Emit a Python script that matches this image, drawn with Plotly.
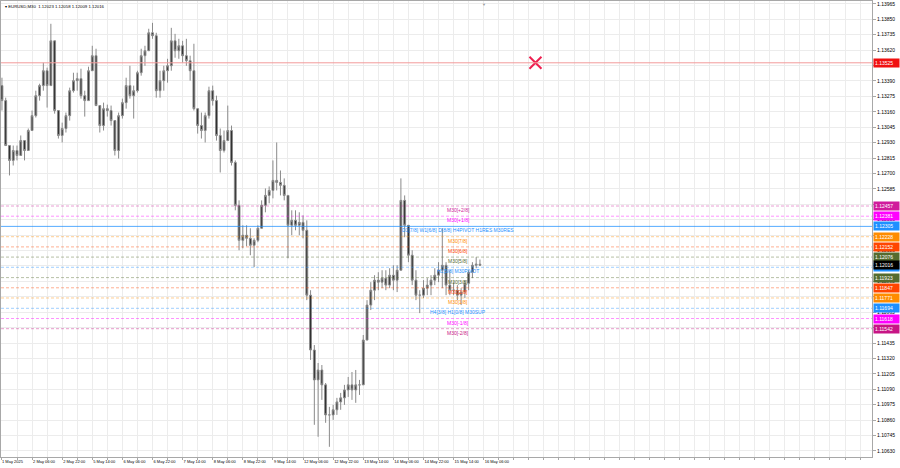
import pandas as pd
import plotly.graph_objects as go

# ---- EURUSD price data (2-hour buckets) ----
opens = [
    1.13355, 1.13243, 1.12908, 1.12797, 1.12871, 1.12834, 1.12945, 1.12871, 1.13020, 1.13131,
    1.13280, 1.13355, 1.13466, 1.13355, 1.13689, 1.13169, 1.12983, 1.13035, 1.13131, 1.13317,
    1.13392, 1.13407, 1.13280, 1.13243, 1.13466, 1.13578, 1.13206, 1.13057, 1.13183, 1.13169,
    1.13094, 1.12871, 1.13131, 1.13228, 1.13355, 1.13280, 1.13317, 1.13451, 1.13578, 1.13615,
    1.13749, 1.13727, 1.13317, 1.13392, 1.13466, 1.13503, 1.13689, 1.13615, 1.13652, 1.13578,
    1.13541, 1.13466, 1.13183, 1.13057, 1.13020, 1.13131, 1.13317, 1.13243, 1.12983, 1.12871,
    1.12945, 1.13020, 1.12782, 1.12462, 1.12201, 1.12239, 1.12216, 1.12164, 1.12201, 1.12291,
    1.12462, 1.12536, 1.12573, 1.12648, 1.12633, 1.12611, 1.12536, 1.12313, 1.12350, 1.12313,
    1.12335, 1.12276, 1.11792, 1.11383, 1.11160, 1.11234, 1.11123, 1.10899, 1.10899, 1.10937,
    1.10996, 1.11026, 1.11085, 1.11123, 1.11085, 1.11123, 1.11123, 1.11457, 1.11718, 1.11829,
    1.11904, 1.11889, 1.11919, 1.11867, 1.11941, 1.11904, 1.11978, 1.12499, 1.12313, 1.12090,
    1.11904, 1.11792, 1.11792, 1.11844, 1.11867, 1.11904, 1.11941, 1.11978, 1.12015, 1.11867,
    1.11829, 1.11829, 1.11792, 1.11815, 1.11881, 1.11963, 1.12015, 1.12023,
]
highs = [
    1.13414, 1.13265, 1.12908, 1.12908, 1.12908, 1.12983, 1.12945, 1.13035, 1.13169, 1.13317,
    1.13369, 1.13526, 1.13489, 1.13816, 1.13689, 1.13169, 1.13079, 1.13154, 1.13340, 1.13451,
    1.13451, 1.13481, 1.13317, 1.13496, 1.13652, 1.13630, 1.13206, 1.13228, 1.13213, 1.13206,
    1.13094, 1.13154, 1.13258, 1.13414, 1.13503, 1.13355, 1.13466, 1.13630, 1.13652, 1.13779,
    1.13823, 1.13749, 1.13466, 1.13503, 1.13555, 1.13786, 1.13741, 1.13704, 1.13689, 1.13704,
    1.13578, 1.13667, 1.13183, 1.13154, 1.13154, 1.13347, 1.13355, 1.13280, 1.13035, 1.13020,
    1.13206, 1.13057, 1.12797, 1.12499, 1.12313, 1.12313, 1.12291, 1.12216, 1.12313, 1.12499,
    1.12588, 1.12603, 1.12797, 1.12931, 1.12722, 1.12663, 1.12536, 1.12425, 1.12425, 1.12410,
    1.12387, 1.12350, 1.11829, 1.11420, 1.11286, 1.11271, 1.11137, 1.10959, 1.10974, 1.11026,
    1.11063, 1.11123, 1.11182, 1.11219, 1.11234, 1.11160, 1.11495, 1.11755, 1.11889, 1.11941,
    1.11963, 1.11978, 1.11978, 1.11993, 1.12015, 1.12015, 1.12663, 1.12536, 1.12313, 1.12127,
    1.11978, 1.11829, 1.11904, 1.11919, 1.11941, 1.11993, 1.12038, 1.12291, 1.12038, 1.11978,
    1.11889, 1.11867, 1.11844, 1.11904, 1.11978, 1.12038, 1.12075, 1.12058,
]
lows = [
    1.13169, 1.12908, 1.12685, 1.12759, 1.12797, 1.12834, 1.12797, 1.12871, 1.13020, 1.13117,
    1.13243, 1.13317, 1.13191, 1.13355, 1.13146, 1.12960, 1.12931, 1.13005, 1.13094, 1.13303,
    1.13317, 1.13258, 1.13124, 1.13243, 1.13466, 1.13206, 1.13005, 1.13020, 1.13124, 1.13057,
    1.12834, 1.12811, 1.13109, 1.13183, 1.13258, 1.13109, 1.13303, 1.13429, 1.13503, 1.13615,
    1.13704, 1.13265, 1.13265, 1.13317, 1.13377, 1.13466, 1.13563, 1.13555, 1.13526, 1.13503,
    1.13392, 1.13169, 1.12997, 1.12960, 1.12931, 1.13109, 1.13206, 1.12945, 1.12707, 1.12856,
    1.12945, 1.12759, 1.12425, 1.12127, 1.12142, 1.12157, 1.12090, 1.12001, 1.12187, 1.12291,
    1.12410, 1.12477, 1.12514, 1.12573, 1.12536, 1.12499, 1.12067, 1.12239, 1.12276, 1.12239,
    1.12216, 1.11755, 1.11309, 1.10825, 1.10736, 1.11011, 1.10840, 1.10661, 1.10862, 1.10899,
    1.10937, 1.10974, 1.11033, 1.11011, 1.10989, 1.11048, 1.11123, 1.11457, 1.11681, 1.11755,
    1.11829, 1.11844, 1.11829, 1.11844, 1.11829, 1.11815, 1.11978, 1.12224, 1.12038, 1.11867,
    1.11755, 1.11658, 1.11770, 1.11792, 1.11792, 1.11867, 1.11889, 1.11844, 1.11792, 1.11792,
    1.11792, 1.11755, 1.11718, 1.11770, 1.11829, 1.11919, 1.11993, 1.12009,
]
closes = [
    1.13243, 1.12908, 1.12797, 1.12871, 1.12834, 1.12945, 1.12871, 1.13020, 1.13131, 1.13280,
    1.13355, 1.13466, 1.13355, 1.13689, 1.13169, 1.12983, 1.13035, 1.13131, 1.13317, 1.13392,
    1.13407, 1.13280, 1.13243, 1.13466, 1.13578, 1.13206, 1.13057, 1.13183, 1.13169, 1.13094,
    1.12871, 1.13131, 1.13228, 1.13355, 1.13280, 1.13317, 1.13451, 1.13578, 1.13615, 1.13749,
    1.13727, 1.13317, 1.13392, 1.13466, 1.13503, 1.13689, 1.13615, 1.13652, 1.13578, 1.13541,
    1.13466, 1.13183, 1.13057, 1.13020, 1.13131, 1.13317, 1.13243, 1.12983, 1.12871, 1.12945,
    1.13020, 1.12782, 1.12462, 1.12201, 1.12239, 1.12216, 1.12164, 1.12201, 1.12291, 1.12462,
    1.12536, 1.12573, 1.12648, 1.12633, 1.12611, 1.12536, 1.12313, 1.12350, 1.12313, 1.12335,
    1.12276, 1.11792, 1.11383, 1.11160, 1.11234, 1.11123, 1.10899, 1.10899, 1.10937, 1.10996,
    1.11026, 1.11085, 1.11123, 1.11085, 1.11123, 1.11123, 1.11457, 1.11718, 1.11829, 1.11904,
    1.11889, 1.11919, 1.11867, 1.11941, 1.11904, 1.11978, 1.12499, 1.12313, 1.12090, 1.11904,
    1.11792, 1.11792, 1.11844, 1.11867, 1.11904, 1.11941, 1.11978, 1.12015, 1.11867, 1.11829,
    1.11829, 1.11792, 1.11815, 1.11881, 1.11963, 1.12015, 1.12023, 1.12016,
]

# Murrey-math style levels drawn on the chart
level_prices = [1.12457, 1.12381, 1.12305, 1.12228, 1.12152, 1.12076, 1.12000,
                1.11923, 1.11847, 1.11771, 1.11694, 1.11618, 1.11542]
level_names = ["M30[+2/8]", "M30[+1/8]", "D1[7/8] W1[6/8] D[8/8] H4PIVOT H1RES M30RES",
               "M30[7/8]", "M30[6/8]", "M30[5/8]", "H1[5/8] M30PIVOT", "M30[3/8]",
               "M30[2/8]", "M30[1/8]", "H4[3/8] H1[0/8] M30SUP", "M30[-1/8]", "M30[-2/8]"]
level_colors = ["#D01C9C", "#FF00FF", "#1E90FF", "#FF8C00", "#FF4500", "#556B2F", "#1E90FF",
                "#556B2F", "#FF4500", "#FF8C00", "#1E90FF", "#FF00FF", "#C71585"]

red_level = 1.13525
bid_price = 1.12016
header = "▾ EURUSD,M30  1.12023 1.12058 1.12009 1.12016"

y_tick_text = ["1.10630", "1.10745", "1.10860", "1.10975", "1.11090", "1.11205", "1.11320",
               "1.11435", "1.11550", "1.11665", "1.11780", "1.11895", "1.12010", "1.12125",
               "1.12240", "1.12355", "1.12470", "1.12585", "1.12700", "1.12815", "1.12930",
               "1.13045", "1.13160", "1.13275", "1.13390", "1.13505", "1.13620", "1.13735",
               "1.13850", "1.13965"]
y_tick_vals = [float(s) for s in y_tick_text]

# time axis: 2h buckets, trading days only
times = [t for t in pd.date_range("2025-05-01 14:00", "2025-05-16 04:00", freq="2h") if t.dayofweek < 5]
grid_times = [t for t in pd.date_range("2025-05-01 22:00", "2025-05-28 20:00", freq="8h") if t.dayofweek < 5]
last_label = pd.Timestamp("2025-05-16 06:00")
x_tick_vals = [pd.Timestamp("2025-05-01 13:30")] + grid_times
x_tick_text = ["1 May 2025"] + [
    (f"{t.day} {t.strftime('%b %H:%M')}" if (i % 2 == 1 and t <= last_label) else "")
    for i, t in enumerate(grid_times)
]

fig = go.Figure()
fig.add_trace(go.Candlestick(
    x=times, open=opens, high=highs, low=lows, close=closes,
    increasing=dict(line=dict(color="#8a8a8a", width=1), fillcolor="#333333"),
    decreasing=dict(line=dict(color="#8a8a8a", width=1), fillcolor="#222222"),
    whiskerwidth=0, showlegend=False, hoverinfo="skip",
))

# red horizontal level
fig.add_hline(y=red_level, line=dict(color="#F39A9A", width=1))
fig.add_annotation(xref="paper", x=1, xanchor="left", xshift=1, yref="y", y=red_level,
                   text=f"{red_level:.5f}", showarrow=False, bgcolor="#F01010",
                   font=dict(color="white", size=5), borderpad=1, width=23, align="left")

for p, name, col in zip(level_prices, level_names, level_colors):
    solid = name.startswith("D1")
    fig.add_hline(y=p, line=dict(color=col, width=1, dash="solid" if solid else "3px,2px"),
                  opacity=0.75 if solid else 0.42)
    fig.add_annotation(x=pd.Timestamp("2025-05-15 16:30"), y=p, xanchor="center", yanchor="top",
                       text=name, showarrow=False, font=dict(color=col, size=5), yshift=1)
    fig.add_annotation(xref="paper", x=1, xanchor="left", xshift=1, yref="y", y=p,
                       text=f"{p:.5f}", showarrow=False, bgcolor=col,
                       font=dict(color="white", size=5), borderpad=1, width=23, align="left")

fig.add_annotation(xref="paper", x=1, xanchor="left", xshift=1, yref="y", y=bid_price,
                   text=f"{bid_price:.5f}", showarrow=False, bgcolor="#000000",
                   font=dict(color="white", size=5), borderpad=1, width=23, align="left")

# cross marker object
fig.add_trace(go.Scatter(x=[pd.Timestamp("2025-05-19 09:30")], y=[red_level], mode="markers",
                         marker=dict(symbol="x-thin", size=12, line=dict(width=2, color="#EE2050")),
                         showlegend=False, hoverinfo="skip"))

# chart-shift marker at the top
fig.add_annotation(x=last_label, yref="paper", y=1, yanchor="top", text="▼", showarrow=False,
                   font=dict(size=4, color="#9a9a9a"), yshift=1)

fig.add_annotation(xref="paper", yref="paper", x=0, y=1, xanchor="left", yanchor="top",
                   text=header, showarrow=False, font=dict(size=4.3, color="#000"), xshift=2, yshift=-1)

fig.update_layout(
    width=900, height=468, margin=dict(l=1, r=28, t=1, b=11, autoexpand=False),
    paper_bgcolor="white", plot_bgcolor="white",
    font=dict(family="Liberation Sans", size=5, color="#000"),
    xaxis_rangeslider_visible=False, showlegend=False,
)
fig.update_xaxes(
    type="date", rangebreaks=[dict(bounds=["sat", "mon"])],
    range=[pd.Timestamp("2025-05-01 13:30"), pd.Timestamp("2025-05-28 20:20")],
    tickmode="array", tickvals=x_tick_vals, ticktext=x_tick_text, tickangle=0,
    ticklabelposition="outside right", tickfont=dict(size=4, color="#000"),
    showgrid=True, gridcolor="#ececec", gridwidth=1, automargin=False,
    showline=True, linecolor="#a8a8a8", linewidth=1, mirror=True,
    ticks="outside", ticklen=2, tickcolor="#a8a8a8", zeroline=False,
)
fig.update_yaxes(
    side="right", range=[1.10585, 1.13986], automargin=False,
    tickmode="array", tickvals=y_tick_vals, ticktext=y_tick_text,
    tickfont=dict(size=5, color="#000"), ticklabeloverflow="allow",
    showgrid=True, gridcolor="#ececec", gridwidth=1,
    showline=True, linecolor="#a8a8a8", linewidth=1, mirror=True,
    ticks="outside", ticklen=3, tickcolor="#a8a8a8", zeroline=False,
)

fig.write_html("out.html", config={"displayModeBar": False},
               post_script="document.body.style.margin='0';document.body.style.padding='0';")
